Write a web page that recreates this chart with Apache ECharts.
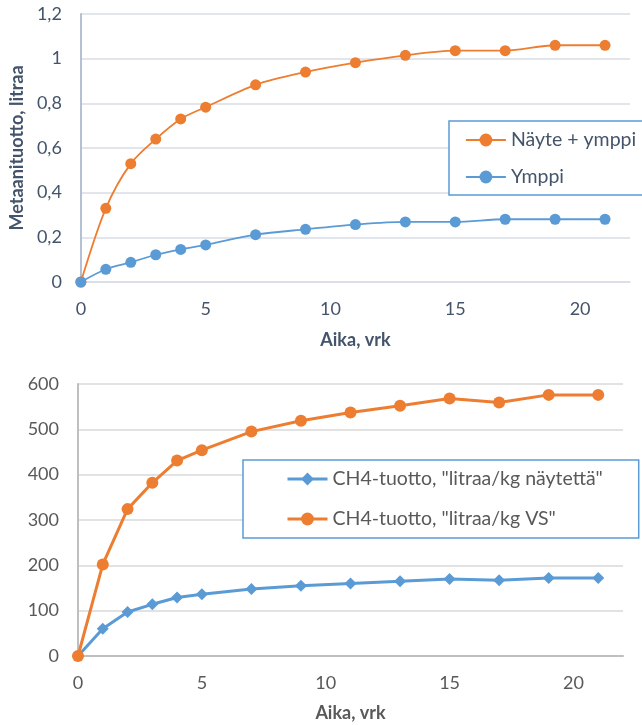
<!DOCTYPE html>
<html>
<head>
<meta charset="utf-8">
<script src="https://cdn.jsdelivr.net/npm/echarts@6/dist/echarts.min.js"></script>
<style>
html,body{margin:0;padding:0;background:#fff;}
#chart{width:642px;height:725px;}
</style>
</head>
<body>
<div id="chart"></div>
<script>
// Data
const days = [0, 1, 2, 3, 4, 5, 7, 9, 11, 13, 15, 17, 19, 21];
const sampleInoculum = [0, 0.33, 0.53, 0.64, 0.73, 0.783, 0.883, 0.94, 0.982, 1.015, 1.036, 1.036, 1.06, 1.06];
const inoculum = [0, 0.057, 0.088, 0.122, 0.146, 0.166, 0.212, 0.236, 0.257, 0.269, 0.269, 0.281, 0.281, 0.281];
const ch4PerKgSample = [0, 60, 97, 114, 129, 136, 148, 155, 160, 165, 170, 167, 172, 172];
const ch4PerKgVS = [0, 202, 324, 382, 431, 454, 495, 519, 537, 552, 568, 559, 576, 576];
const topSeriesNames = ['Näyte + ymppi', 'Ymppi'];
const bottomSeriesNames = ['CH4-tuotto, "litraa/kg näytettä"', 'CH4-tuotto, "litraa/kg VS"'];
const xTitle = 'Aika, vrk';
const topYTitle = 'Metaanituotto, litraa';

const ORANGE = '#ED7D31', BLUE = '#5B9BD5';
const FONT = 'Lato';
const TOPTXT = '#44546A', BOTTXT = '#595959';

function pairs(xs, ys) { return xs.map((x, i) => [x, ys[i]]); }

const chart = echarts.init(document.getElementById('chart'));
chart.setOption({
  animation: false,
  backgroundColor: '#fff',
  textStyle: { fontFamily: FONT },
  grid: [
    { left: 78, top: 14, width: 552, height: 268 },
    { left: 78, top: 384, width: 545, height: 272 }
  ],
  xAxis: [
    {
      gridIndex: 0, type: 'value', min: 0, max: 22, interval: 5,
      name: xTitle, nameLocation: 'middle', nameGap: 49,
      nameTextStyle: { color: TOPTXT, fontSize: 18, fontWeight: 'bold', fontFamily: FONT },
      axisLine: { show: true, lineStyle: { color: '#D9DEE6', width: 1.5 } },
      axisTick: { show: false },
      splitLine: { show: false },
      axisLabel: { color: TOPTXT, fontSize: 18, margin: 18, showMaxLabel: false, fontFamily: FONT }
    },
    {
      gridIndex: 1, type: 'value', min: 0, max: 22, interval: 5,
      name: xTitle, nameLocation: 'middle', nameGap: 48,
      nameTextStyle: { color: BOTTXT, fontSize: 18, fontWeight: 'bold', fontFamily: FONT },
      axisLine: { show: true, lineStyle: { color: '#BFBFBF', width: 2 } },
      axisTick: { show: false },
      splitLine: { show: false },
      axisLabel: { color: BOTTXT, fontSize: 18, margin: 18, showMaxLabel: false, fontFamily: FONT }
    }
  ],
  yAxis: [
    {
      gridIndex: 0, type: 'value', min: 0, max: 1.2, interval: 0.2,
      name: topYTitle, nameLocation: 'middle', nameGap: 53, nameRotate: 90,
      nameTextStyle: { color: TOPTXT, fontSize: 18, fontWeight: 'bold', fontFamily: FONT },
      axisLine: { show: true, lineStyle: { color: '#B4C0D3', width: 2 } },
      axisTick: { show: false },
      splitLine: { show: true, lineStyle: { color: '#D9DEE6', width: 1.5 } },
      axisLabel: {
        color: TOPTXT, fontSize: 18, margin: 19, fontFamily: FONT,
        formatter: v => String(Math.round(v * 10) / 10).replace('.', ',')
      }
    },
    {
      gridIndex: 1, type: 'value', min: 0, max: 600, interval: 100,
      axisLine: { show: true, lineStyle: { color: '#BFBFBF', width: 2 } },
      axisTick: { show: false },
      splitLine: { show: true, lineStyle: { color: '#D9D9D9', width: 1.5 } },
      axisLabel: { color: BOTTXT, fontSize: 18, margin: 19, fontFamily: FONT }
    }
  ],
  legend: [
    {
      data: topSeriesNames,
      orient: 'vertical', left: 449, top: 121,
      padding: [9, 14, 8, 16],
      itemGap: 17, itemWidth: 40, itemHeight: 16,
      borderColor: BLUE, borderWidth: 1.5, backgroundColor: '#fff',
      lineStyle: { width: 1.8 },
      textStyle: { color: TOPTXT, fontSize: 19.5, fontFamily: FONT }
    },
    {
      data: bottomSeriesNames,
      orient: 'vertical', left: 243, top: 460,
      padding: [9, 36, 9, 43],
      itemGap: 20, itemWidth: 40, itemHeight: 16,
      borderColor: BLUE, borderWidth: 1.5, backgroundColor: '#fff',
      lineStyle: { width: 3 },
      textStyle: { color: BOTTXT, fontSize: 19.5, fontFamily: FONT }
    }
  ],
  series: [
    {
      name: topSeriesNames[0], type: 'line', xAxisIndex: 0, yAxisIndex: 0,
      data: pairs(days, sampleInoculum), smooth: 0.3,
      symbol: 'circle', symbolSize: 11,
      lineStyle: { color: ORANGE, width: 1.8 }, itemStyle: { color: ORANGE }
    },
    {
      name: topSeriesNames[1], type: 'line', xAxisIndex: 0, yAxisIndex: 0,
      data: pairs(days, inoculum), smooth: 0.3,
      symbol: 'circle', symbolSize: 11,
      lineStyle: { color: BLUE, width: 1.8 }, itemStyle: { color: BLUE }
    },
    {
      name: bottomSeriesNames[0], type: 'line', xAxisIndex: 1, yAxisIndex: 1,
      data: pairs(days, ch4PerKgSample),
      symbol: 'diamond', symbolSize: 12,
      lineStyle: { color: BLUE, width: 3 }, itemStyle: { color: BLUE }
    },
    {
      name: bottomSeriesNames[1], type: 'line', xAxisIndex: 1, yAxisIndex: 1,
      data: pairs(days, ch4PerKgVS),
      symbol: 'circle', symbolSize: 12,
      lineStyle: { color: ORANGE, width: 3 }, itemStyle: { color: ORANGE }
    }
  ]
});
</script>
</body>
</html>
